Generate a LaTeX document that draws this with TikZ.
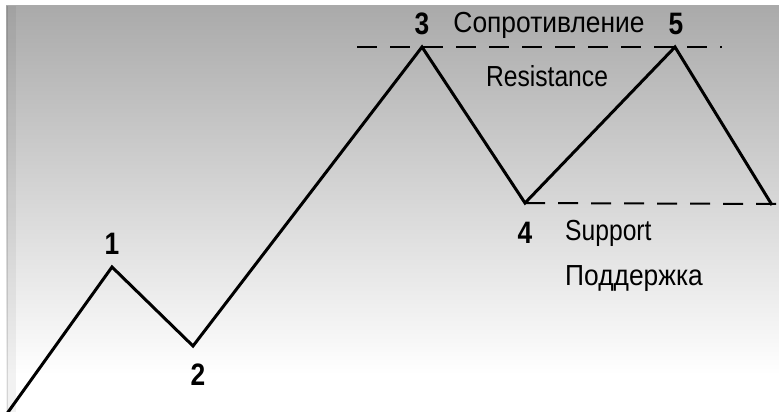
\documentclass[tikz,border=0pt]{standalone}
\usepackage{fontspec}
\setmainfont{Liberation Sans}
\newfontfamily\labfont[FakeStretch=0.85]{Liberation Sans}
\newfontfamily\rulabfont[FakeStretch=0.91]{Liberation Sans}
\begin{document}
\begin{tikzpicture}[x=1pt,y=-1pt,
  txt/.style={inner sep=0pt, anchor=base, font=\labfont\fontsize{29}{30}\selectfont},
  rutxt/.style={txt, font=\rulabfont\fontsize{29}{30}\selectfont},
  num/.style={inner sep=0pt, anchor=base, font=\labfont\bfseries\fontsize{31}{32}\selectfont},
  price/.style={line width=3pt, line join=miter, black},
  level/.style={line width=2pt, black, dash pattern=on 20pt off 13pt}]
\useasboundingbox (0,0) rectangle (779,412);
\fill[white] (0,0) rectangle (779,412);
\shade[top color={rgb,255:red,170;green,170;blue,170}, bottom color=white] (6,6) rectangle (779,375);
\fill[white] (6,375) rectangle (779,412);
\fill[black, opacity=0.05] (6,6) rectangle (16,412);
\draw[black, opacity=0.12, line width=1pt] (7,6) -- (7,412);
% points
\coordinate (p0) at (6,415);
\coordinate (p1) at (112,267);
\coordinate (p2) at (193,346);
\coordinate (p3) at (422,47);
\coordinate (p4) at (525,203);
\coordinate (p5) at (675,47);
\coordinate (p6) at (772,205);
\coordinate (r0) at (357,47);
\coordinate (r1) at (722,47);
\coordinate (s1) at (779,204);
\begin{scope}
\clip (6,6) rectangle (779,412);
\draw[level] (r0) -- (r1);
\draw[level] (p4) -- (s1);
\draw[price] (p0) -- (p1) -- (p2) -- (p3) -- (p4) -- (p5) -- (p6);
\end{scope}
% labels
\node[num] (n1) at (112,254) {1};
\node[num] (n2) at (198,385) {2};
\node[num] (n3) at (422,35) {3};
\node[num] (n4) at (525,243) {4};
\node[num] (n5) at (676,35) {5};
\node[rutxt] (tres) at (549,33) {Сопротивление};
\node[txt] (tresen) at (547,87) {Resistance};
\node[txt, anchor=base west] (tsup) at (565,240) {Support};
\node[rutxt, anchor=base west] (tsupru) at (565,285) {Поддержка};
\end{tikzpicture}
\end{document}
